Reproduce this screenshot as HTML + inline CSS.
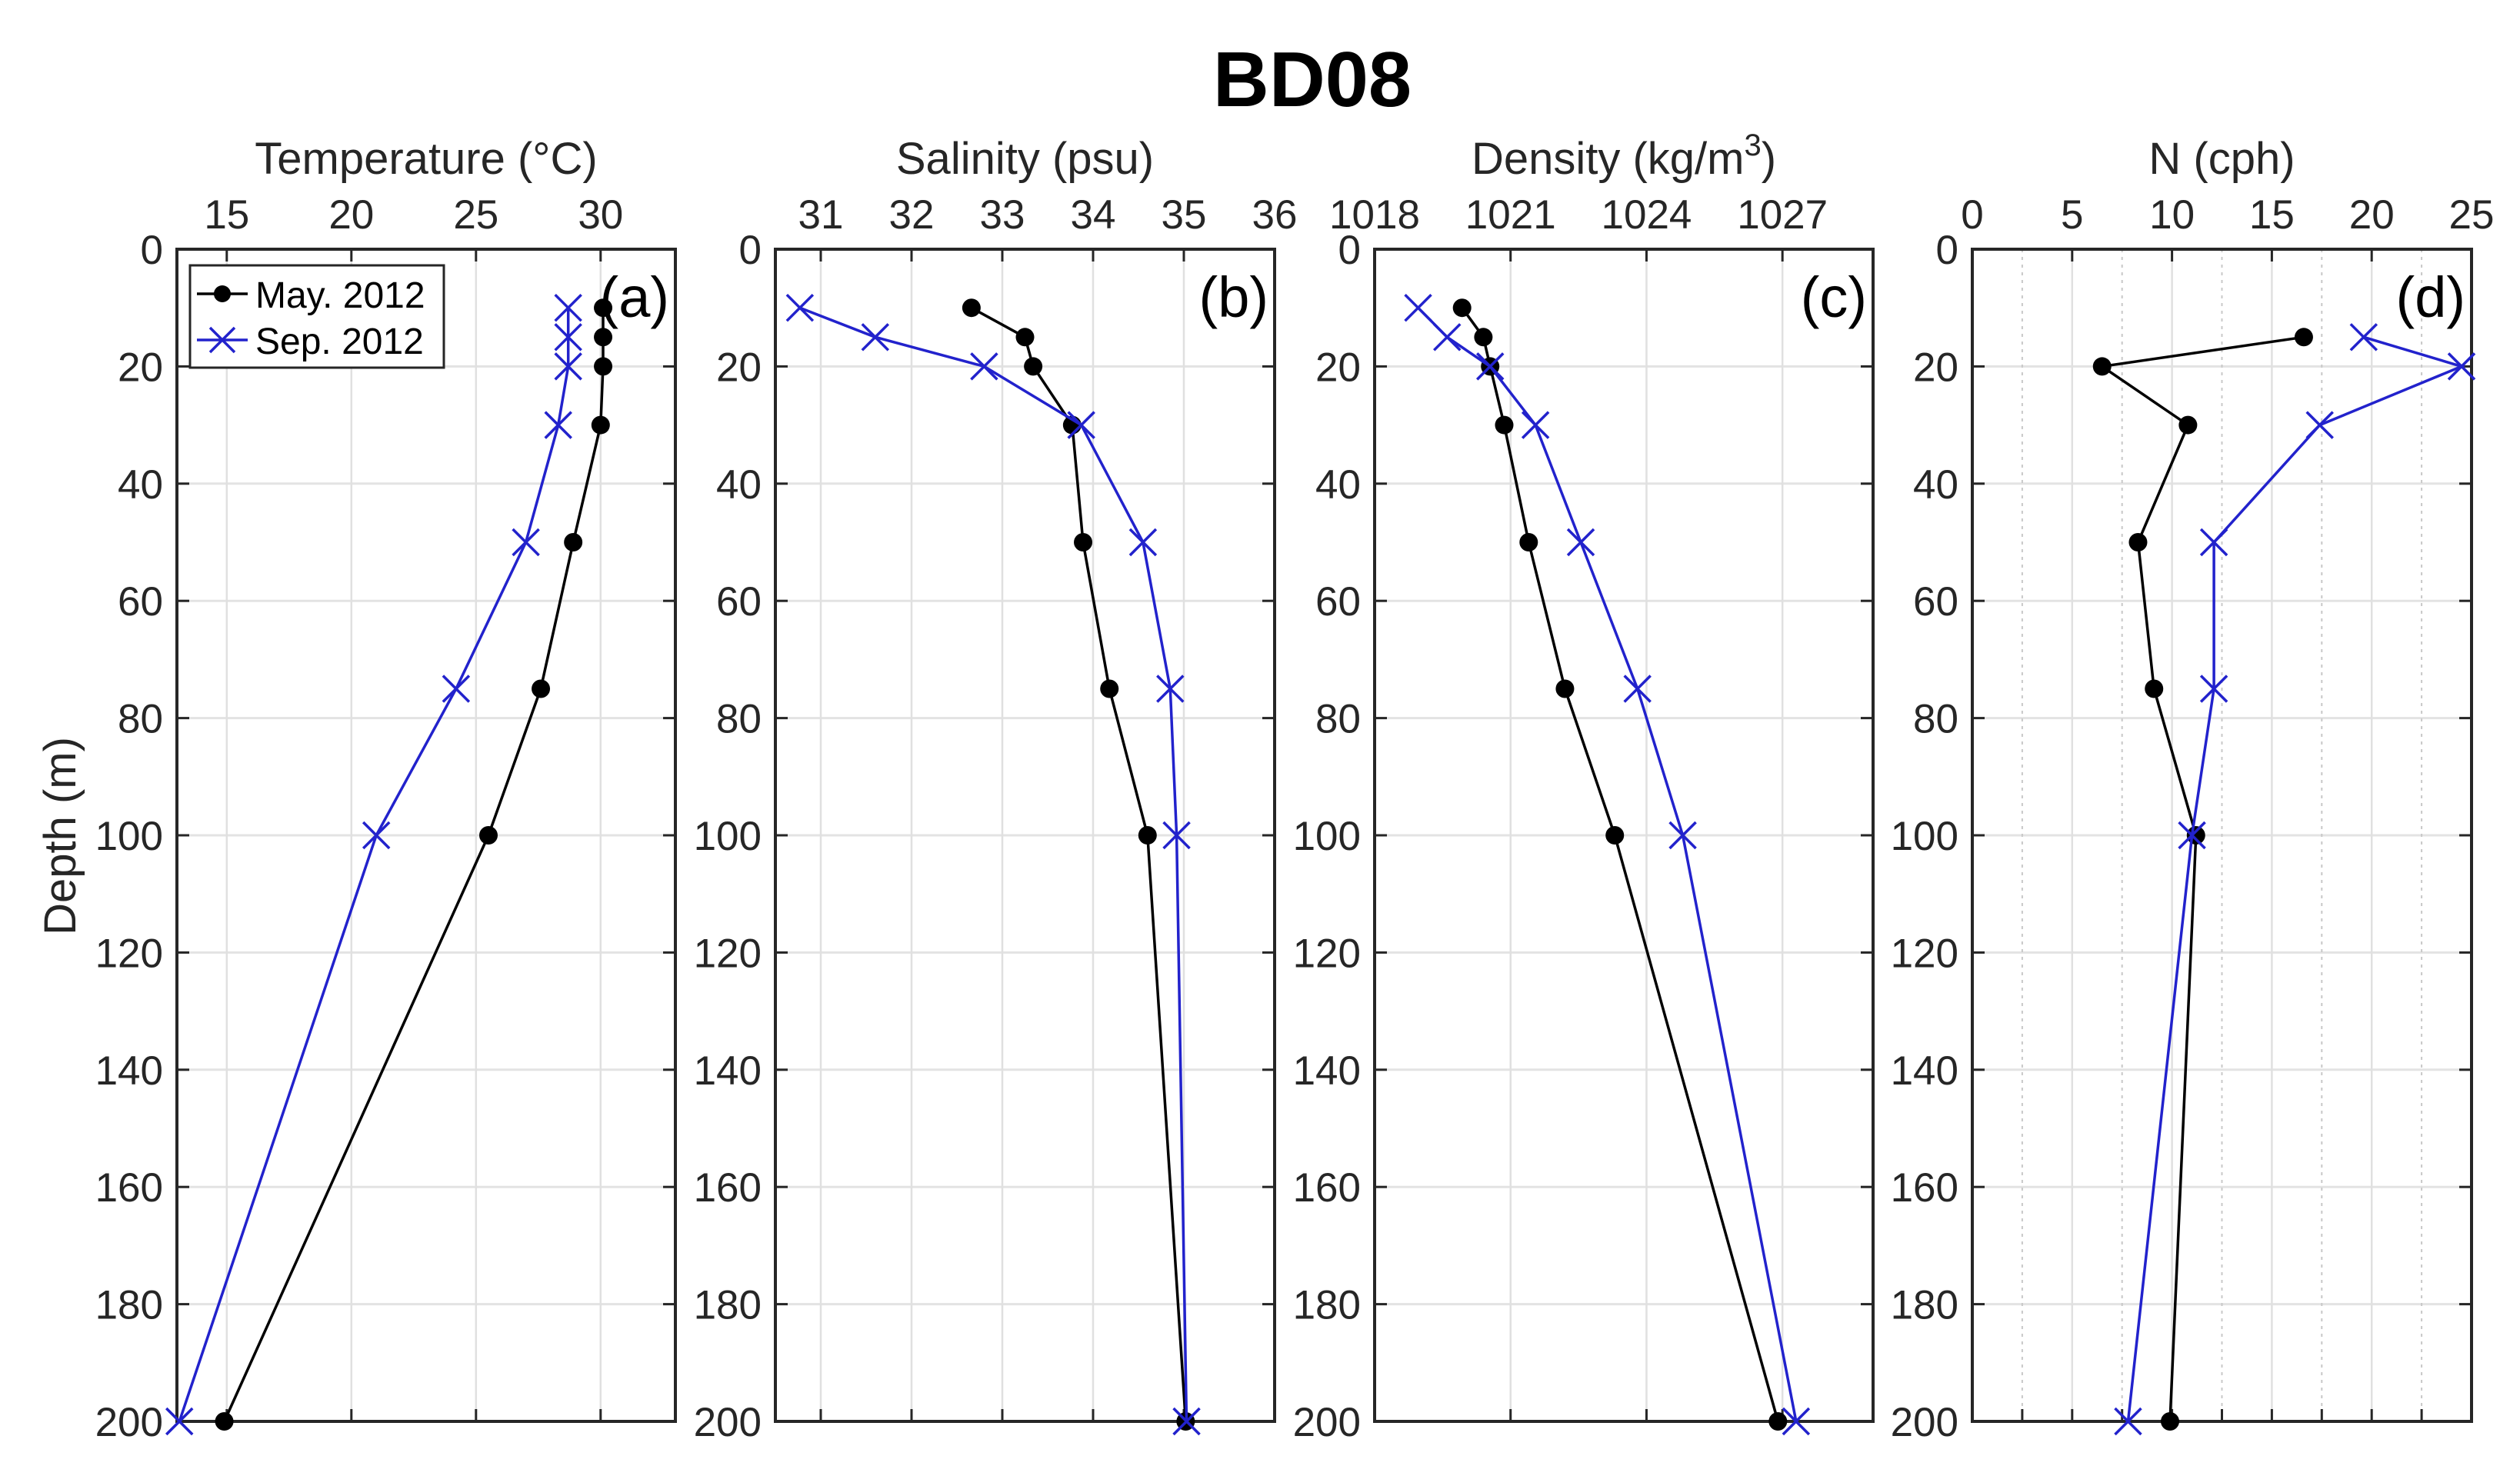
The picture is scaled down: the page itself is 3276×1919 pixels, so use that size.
<!DOCTYPE html>
<html><head><meta charset="utf-8">
<style>
html,body{margin:0;padding:0;background:#fff;}
svg{display:block;font-family:"Liberation Sans",Arial,sans-serif;}
</style></head>
<body>
<svg id="fig" width="3276" height="1919" viewBox="0 0 3276 1919" xmlns="http://www.w3.org/2000/svg">
<rect width="3276" height="1919" fill="#fff"/>
<text x="1706" y="138" font-size="101" font-weight="bold" text-anchor="middle" fill="#000">BD08</text>
<text transform="translate(98,1087) rotate(-90)" font-size="58" text-anchor="middle" fill="#262626">Depth (m)</text>
</svg>
<script>
const depths = [10, 15, 20, 30, 50, 75, 100, 200];
const tempMay = [30.1, 30.1, 30.1, 30.0, 28.9, 27.6, 25.5, 14.9];
const tempSep = [28.7, 28.7, 28.7, 28.3, 27.0, 24.2, 21.0, 13.1];
const salMay = [32.66, 33.25, 33.34, 33.77, 33.89, 34.18, 34.6, 35.02];
const salSep = [30.77, 31.6, 32.8, 33.87, 34.55, 34.85, 34.92, 35.03];
const denMay = [1019.93, 1020.4, 1020.55, 1020.86, 1021.4, 1022.2, 1023.3, 1026.9];
const denSep = [1018.96, 1019.6, 1020.55, 1021.55, 1022.55, 1023.8, 1024.8, 1027.3];
const nDepths = [15, 20, 30, 50, 75, 100, 200];
const nMay = [16.6, 6.5, 10.8, 8.3, 9.1, 11.2, 9.9];
const nSep = [19.6, 24.5, 17.4, 12.1, 12.1, 11.0, 7.8];
const depthTicks = [0, 20, 40, 60, 80, 100, 120, 140, 160, 180, 200];
const tempTicks = [15, 20, 25, 30];
const salTicks = [31, 32, 33, 34, 35, 36];
const denTicks = [1018, 1021, 1024, 1027];
const nTicks = [0, 5, 10, 15, 20, 25];

const NS = "http://www.w3.org/2000/svg";
const svg = document.getElementById('fig');
const TOP = 324, BOT = 1848;
function yS(d){ return TOP + (d/200)*(BOT-TOP); }
function mk(tag, attrs, parent){
  const e = document.createElementNS(NS, tag);
  for (const k in attrs) e.setAttribute(k, attrs[k]);
  (parent||svg).appendChild(e);
  return e;
}
const panels = [
  {key:'temperature', L:230, R:878, min:13, max:33, ticks:tempTicks, label:'Temperature (°C)', tag:'(a)', may:tempMay, sep:tempSep, dm:depths, ds:depths},
  {key:'salinity', L:1008, R:1657, min:30.5, max:36, ticks:salTicks, label:'Salinity (psu)', tag:'(b)', may:salMay, sep:salSep, dm:depths, ds:depths},
  {key:'density', L:1787, R:2435, min:1018, max:1029, ticks:denTicks, label:'Density (kg/m', tag:'(c)', may:denMay, sep:denSep, dm:depths, ds:depths},
  {key:'n', L:2564, R:3213, min:0, max:25, ticks:nTicks, label:'N (cph)', tag:'(d)', may:nMay, sep:nSep, dm:nDepths, ds:nDepths, minor:true}
];
panels.forEach(p=>{
  const g = mk('g', {});
  
  
  const xS = v => p.L + (v - p.min)/(p.max - p.min)*(p.R - p.L);
  // horizontal grid
  depthTicks.forEach(d=>{
    const ln = mk('line', {x1:p.L, x2:p.R, y1:yS(d), y2:yS(d), stroke:'#e3e3e3', 'stroke-width':3}, g);
    
    
  });
  // minor dotted grid (panel d)
  if (p.minor){
    for (let i=0;i<p.ticks.length-1;i++){
      const v = (p.ticks[i]+p.ticks[i+1])/2;
      const ln = mk('line', {x1:xS(v), x2:xS(v), y1:TOP, y2:BOT, stroke:'#c8c8c8', 'stroke-width':2, 'stroke-dasharray':'4,6'}, g);
      
      
      mk('line', {x1:xS(v), x2:xS(v), y1:BOT, y2:BOT-16, stroke:'#262626', 'stroke-width':3}, g);
    }
  }
  // vertical grid + tick labels
  p.ticks.forEach(t=>{
    const x = xS(t);
    const ln = mk('line', {x1:x, x2:x, y1:TOP, y2:BOT, stroke:'#e0e0e0', 'stroke-width':2.5}, g);
    
    
    mk('line', {x1:x, x2:x, y1:TOP, y2:TOP+16, stroke:'#262626', 'stroke-width':3}, g);
    mk('line', {x1:x, x2:x, y1:BOT, y2:BOT-16, stroke:'#262626', 'stroke-width':3}, g);
    const tx = mk('text', {x:x, y:297, 'font-size':53, 'text-anchor':'middle', fill:'#262626'}, g);
    tx.textContent = t;
    
    
  });
  depthTicks.forEach(d=>{
    mk('line', {x1:p.L, x2:p.L+16, y1:yS(d), y2:yS(d), stroke:'#262626', 'stroke-width':3}, g);
    mk('line', {x1:p.R, x2:p.R-16, y1:yS(d), y2:yS(d), stroke:'#262626', 'stroke-width':3}, g);
    const tx = mk('text', {x:p.L-18, y:yS(d)+19, 'font-size':53, 'text-anchor':'end', fill:'#262626'}, g);
    tx.textContent = d;
    
    
  });
  const box = mk('rect', {x:p.L, y:TOP, width:p.R-p.L, height:BOT-TOP, fill:'none', stroke:'#262626', 'stroke-width':4}, g);
  
  
  const lab = mk('text', {x:(p.L+p.R)/2, y:226, 'font-size':58, 'text-anchor':'middle', fill:'#262626'}, g);
  
  
  if (p.key==='density'){
    lab.appendChild(document.createTextNode('Density (kg/m'));
    const s = mk('tspan', {dy:-24, 'font-size':40}, lab); s.textContent='3';
    const s2 = mk('tspan', {dy:24}, lab); s2.textContent=')';
  } else lab.textContent = p.label;
  const tg = mk('text', {x:p.R-8, y:TOP+88, 'font-size':74, 'text-anchor':'end', fill:'#000'}, g);
  tg.textContent = p.tag;
  
  
  // series
  const drawSeries = (vals, ds, color, marker, name)=>{
    const sg = mk('g', {}, g);
    
    
    const pts = vals.map((v,i)=>xS(v).toFixed(1)+','+yS(ds[i]).toFixed(1)).join(' ');
    mk('polyline', {points:pts, fill:'none', stroke:color, 'stroke-width':3.5}, sg);
    vals.forEach((v,i)=>{
      const x = xS(v), y = yS(ds[i]);
      if (marker==='dot'){
        const c = mk('circle', {cx:x, cy:y, r:12, fill:'#000'}, sg);
        
        
      } else {
        const m = mk('path', {d:`M${x-17},${y-17}L${x+17},${y+17}M${x-17},${y+17}L${x+17},${y-17}`, stroke:color, 'stroke-width':3.5}, sg);
        
        
      }
    });
  };
  drawSeries(p.may, p.dm, '#000', 'dot', 'series-may-2012');
  drawSeries(p.sep, p.ds, '#2222cc', 'x', 'series-sep-2012');
});
// legend
const lg = mk('g', {});


mk('rect', {x:247, y:345, width:330, height:133, fill:'#fff', stroke:'#262626', 'stroke-width':3}, lg);
mk('line', {x1:256, x2:322, y1:382, y2:382, stroke:'#000', 'stroke-width':3.5}, lg);
mk('circle', {cx:289, cy:382, r:11, fill:'#000'}, lg);
const l1 = mk('text', {x:332, y:400, 'font-size':48, fill:'#000'}, lg);
l1.textContent = 'May. 2012';


mk('line', {x1:256, x2:322, y1:442, y2:442, stroke:'#2222cc', 'stroke-width':3.5}, lg);
mk('path', {d:'M273,426L305,458M273,458L305,426', stroke:'#2222cc', 'stroke-width':3.5}, lg);
const l2 = mk('text', {x:332, y:460, 'font-size':48, fill:'#000'}, lg);
l2.textContent = 'Sep. 2012';


</script>
</body></html>
